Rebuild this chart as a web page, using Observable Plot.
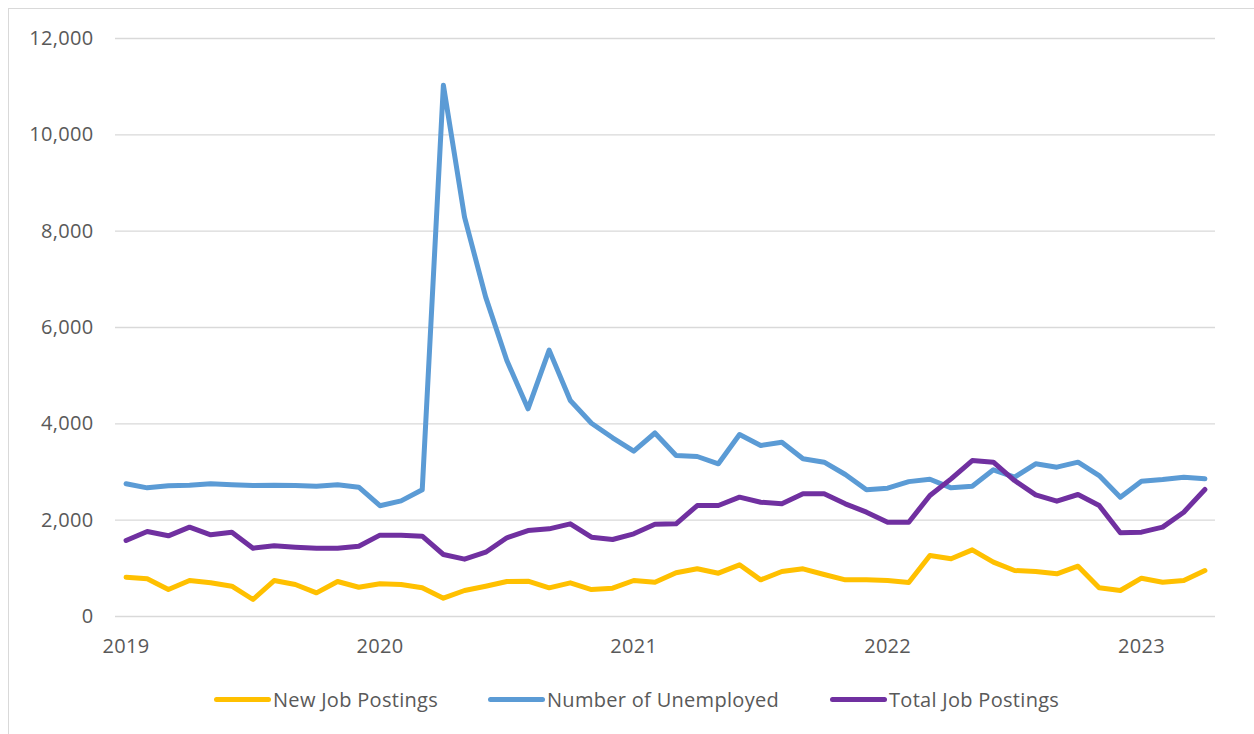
<!DOCTYPE html>
<html>
<head>
<meta charset="utf-8">
<script src="https://cdn.jsdelivr.net/npm/d3@7"></script>
<script src="https://cdn.jsdelivr.net/npm/@observablehq/plot@0.6"></script>
<style>
  html, body { margin: 0; background: #fff; font-family: "Open Sans", sans-serif; overflow: hidden; width: 1254px; height: 734px; }
  #frame { position: absolute; left: 8px; top: 8px; width: 1400px; height: 900px; border: 1px solid #d9d9d9; box-sizing: border-box; }
  #chart { position: absolute; left: 0; top: 0; }
  .item { position: absolute; top: 686px; display: flex; align-items: center; height: 26px; color: #595959; font-size: 20px; letter-spacing: 0.3px; }
  .sw { width: 57px; height: 5px; border-radius: 3px; margin-right: 2px; }
</style>
</head>
<body>
<div id="frame"></div>
<div id="chart"></div>
<div id="legend"></div>
<script>
const months = [
  "2019-01","2019-02","2019-03","2019-04","2019-05","2019-06","2019-07","2019-08","2019-09","2019-10","2019-11","2019-12",
  "2020-01","2020-02","2020-03","2020-04","2020-05","2020-06","2020-07","2020-08","2020-09","2020-10","2020-11","2020-12",
  "2021-01","2021-02","2021-03","2021-04","2021-05","2021-06","2021-07","2021-08","2021-09","2021-10","2021-11","2021-12",
  "2022-01","2022-02","2022-03","2022-04","2022-05","2022-06","2022-07","2022-08","2022-09","2022-10","2022-11","2022-12",
  "2023-01","2023-02","2023-03","2023-04"
];
const newJobPostings = [
  816,782,560,747,699,629,353,747,664,491,726,608,
  678,664,595,380,540,629,726,733,595,699,560,588,
  747,712,910,990,899,1073,761,934,990,872,761,761,
  747,705,1266,1198,1384,1128,955,934,886,1044,595,540,
  795,712,747,955
];
const numberUnemployed = [
  2755,2671,2713,2726,2755,2734,2720,2726,2720,2706,2734,2685,
  2300,2400,2630,11030,8290,6630,5315,4312,5530,4484,4013,3710,
  3432,3810,3342,3322,3170,3778,3550,3619,3274,3204,2948,2630,
  2664,2800,2850,2671,2706,3045,2892,3170,3100,3204,2927,2477,
  2809,2844,2892,2858
];
const totalJobPostings = [
  1578,1765,1675,1855,1696,1751,1419,1467,1439,1419,1419,1460,
  1689,1689,1668,1287,1190,1335,1634,1785,1820,1924,1647,1599,
  1717,1917,1924,2304,2304,2477,2373,2339,2547,2547,2339,2166,
  1958,1958,2512,2858,3238,3204,2823,2526,2394,2533,2304,1737,
  1751,1855,2166,2637
];
const yearLabels = ["2019","2020","2021","2022","2023"];
const yTicks = [0,2000,4000,6000,8000,10000,12000];

const seriesNames = ["New Job Postings","Number of Unemployed","Total Job Postings"];
const seriesColors = ["#FFC000","#5B9BD5","#7030A0"];
const seriesValues = [newJobPostings, numberUnemployed, totalJobPostings];

const rows = [];
seriesNames.forEach((name, s) => {
  seriesValues[s].forEach((v, i) => rows.push({series: name, i, month: months[i], value: v}));
});

const yearTickPos = yearLabels.map(y => months.indexOf(y + "-01"));

const chart = Plot.plot({
  width: 1254,
  height: 672,
  marginLeft: 115,
  marginRight: 39,
  marginTop: 38,
  marginBottom: 56,
  style: { fontFamily: '"Open Sans", sans-serif', fontSize: "20px", color: "#595959", background: "transparent", letterSpacing: "0.3px" },
  x: { domain: [-0.5, months.length - 0.5], axis: null },
  y: { domain: [0, 12000], axis: null },
  color: { domain: seriesNames, range: seriesColors },
  marks: [
    Plot.gridY(yTicks, { stroke: "#d9d9d9", strokeOpacity: 1, strokeWidth: 1.3 }),
    Plot.axisY(yTicks, { tickSize: 0, tickPadding: 22, tickFormat: d3.format(","), fill: "#595959", fontSize: 20, label: null }),
    Plot.axisX(yearTickPos, { tickSize: 0, tickPadding: 22, tickFormat: i => months[i].slice(0, 4), fill: "#595959", fontSize: 20, label: null }),
    Plot.line(rows, { x: "i", y: "value", z: "series", stroke: "series", strokeWidth: 5, strokeLinejoin: "round", strokeLinecap: "round" })
  ]
});
document.getElementById("chart").appendChild(chart);

const legend = document.getElementById("legend");
const legendLeft = [214, 488, 830];
seriesNames.forEach((name, s) => {
  const item = document.createElement("div");
  item.className = "item";
  item.style.left = legendLeft[s] + "px";
  const sw = document.createElement("div");
  sw.className = "sw";
  sw.style.background = seriesColors[s];
  const t = document.createElement("span");
  t.textContent = name;
  item.appendChild(sw);
  item.appendChild(t);
  legend.appendChild(item);
});
</script>
</body>
</html>
